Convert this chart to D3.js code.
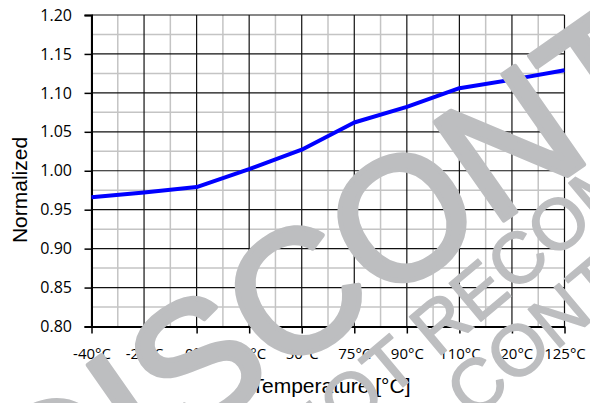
<!DOCTYPE html>
<html>
<head>
<meta charset="utf-8">
<script src="https://cdn.jsdelivr.net/npm/d3@7"></script>
<style>
  html, body { margin: 0; padding: 0; background: #fff; }
  svg { display: block; }
</style>
</head>
<body>
<svg id="chart" width="590" height="403"></svg>
<script>
// ---- data ----
const categories = ["-40°C", "-20°C", "0°C", "25°C", "50°C", "75°C", "90°C", "110°C", "120°C", "125°C"];
const values = [0.966, 0.972, 0.979, 1.002, 1.027, 1.062, 1.082, 1.106, 1.117, 1.129];
const yTicks = [0.80, 0.85, 0.90, 0.95, 1.00, 1.05, 1.10, 1.15, 1.20];
const yMinorTicks = [0.825, 0.875, 0.925, 0.975, 1.025, 1.075, 1.125, 1.175];
const xTitle = "Temperature [°C]";
const yTitle = "Normalized";
const watermarkBig = "DISCONTINUED";
const watermarkSmall1 = "NOT RECOMMENDED";
const watermarkSmall2 = "CALL CONTACT";

// ---- layout ----
const plot = { left: 91.5, right: 564.5, top: 15, bottom: 326.5 };
const svg = d3.select("#chart");

const x = d3.scalePoint().domain(categories).range([plot.left, plot.right]);
const y = d3.scaleLinear().domain([0.80, 1.20]).range([plot.bottom, plot.top]);

const grid = svg.append("g");
const minorX = categories.slice(0, -1).map((c, i) => (x(c) + x(categories[i + 1])) / 2);
grid.selectAll(".vminor").data(minorX).join("line")
  .attr("x1", d => d).attr("x2", d => d)
  .attr("y1", plot.top).attr("y2", plot.bottom)
  .attr("stroke", "#c4c4c4").attr("stroke-width", 1.5);
grid.selectAll(".hminor").data(yMinorTicks).join("line")
  .attr("x1", plot.left).attr("x2", plot.right)
  .attr("y1", d => y(d)).attr("y2", d => y(d))
  .attr("stroke", "#c4c4c4").attr("stroke-width", 1.5);
grid.selectAll(".vmajor").data(categories).join("line")
  .attr("x1", d => x(d)).attr("x2", d => x(d))
  .attr("y1", plot.top).attr("y2", plot.bottom)
  .attr("stroke", "#111").attr("stroke-width", 1.2);
grid.selectAll(".hmajor").data(yTicks).join("line")
  .attr("x1", plot.left).attr("x2", plot.right)
  .attr("y1", d => y(d)).attr("y2", d => y(d))
  .attr("stroke", "#111").attr("stroke-width", 1.2);

const tickFont = "'Open Sans', sans-serif";
const yAxis = svg.append("g")
  .attr("transform", `translate(${plot.left},0)`)
  .call(d3.axisLeft(y).tickValues(yTicks).tickFormat(d3.format(".2f")).tickSize(7).tickPadding(12.5));
yAxis.select(".domain").attr("stroke", "#000").attr("stroke-width", 2);
yAxis.selectAll(".tick line").attr("stroke", "#000").attr("stroke-width", 1.5);
yAxis.selectAll(".tick text").attr("font-family", tickFont).attr("font-size", 16).attr("fill", "#000");

const xAxis = svg.append("g")
  .attr("transform", `translate(0,${plot.bottom})`)
  .call(d3.axisBottom(x).tickSize(7).tickSizeOuter(0));
xAxis.select(".domain").attr("stroke", "#000").attr("stroke-width", 2);
xAxis.selectAll(".tick line").attr("stroke", "#000").attr("stroke-width", 1.5);
xAxis.selectAll(".tick text").attr("font-family", tickFont).attr("font-size", 15)
  .attr("fill", "#000").attr("dy", null).attr("y", 32);

const line = d3.line().x((d, i) => x(categories[i])).y(d => y(d));
svg.append("path").datum(values)
  .attr("d", line)
  .attr("fill", "none").attr("stroke", "#0000ff").attr("stroke-width", 4)
  .attr("stroke-linejoin", "round").attr("stroke-linecap", "butt");

svg.append("text")
  .attr("transform", "translate(27,190) rotate(-90)")
  .attr("text-anchor", "middle")
  .attr("font-family", "'Liberation Sans', Arial, sans-serif").attr("font-size", 21)
  .attr("fill", "#000").text(yTitle);
svg.append("text")
  .attr("x", 331).attr("y", 393)
  .attr("text-anchor", "middle")
  .attr("font-family", "'Liberation Sans', Arial, sans-serif").attr("font-size", 21)
  .attr("fill", "#000").text(xTitle);

// ---- watermark ----
const wmColor = "#bdbec0";
function watermark(str, idx, cx, cy, angle, size, strokeW) {
  const g = svg.append("g").attr("transform", `translate(${cx},${cy}) rotate(${-angle})`);
  const t = g.append("text")
    .attr("font-family", "'Liberation Sans', Arial, sans-serif")
    .attr("font-size", size)
    .attr("fill", wmColor)
    .attr("stroke", wmColor).attr("stroke-width", strokeW).attr("stroke-linejoin", "round")
    .attr("x", 0).attr("y", 0)
    .text(str);
  const n = t.node();
  const pre = idx > 0 ? n.getSubStringLength(0, idx) : 0;
  const w = n.getSubStringLength(idx, 1);
  t.attr("x", -(pre + w / 2)).attr("y", size * 0.358);
}
watermark(watermarkBig, 4, 401, 216, 35, 174, 5);
watermark(watermarkSmall1, 4, 440, 322, 40, 72, 1.5);
watermark(watermarkSmall2, 5, 476, 384, 40, 72, 1.5);
</script>
</body>
</html>
